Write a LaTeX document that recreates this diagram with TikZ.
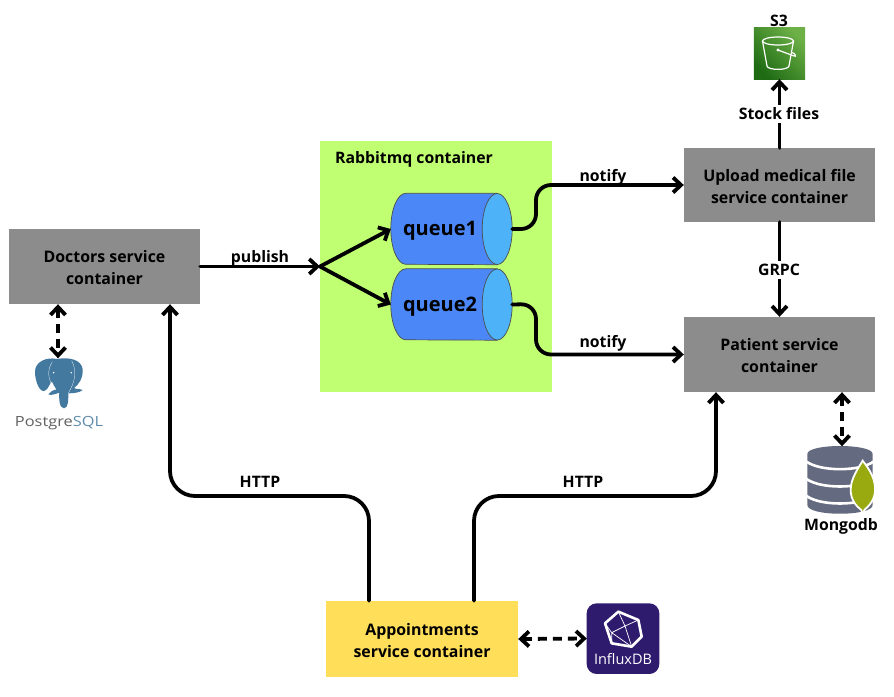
\documentclass[tikz,border=0pt]{standalone}
\usepackage{fontspec}
\setmainfont{Open Sans}
\usetikzlibrary{arrows.meta,calc}
\definecolor{boxgray}{HTML}{8C8C8C}
\definecolor{rabbitgreen}{HTML}{C1FF72}
\definecolor{apptyellow}{HTML}{FFDE59}
\definecolor{qbody}{HTML}{4B87F7}
\definecolor{qend}{HTML}{4DB2F7}
\definecolor{pgblue}{HTML}{44799F}
\definecolor{dbgray}{HTML}{646A80}
\definecolor{leafgreen}{HTML}{98AA10}
\definecolor{influx}{HTML}{2F1B6E}
\definecolor{sthree}{HTML}{1F6B14}
\definecolor{sthreelight}{HTML}{6CB046}
\newcommand{\queueshape}[1]{%
  \filldraw[fill=qbody,draw=black!70,line width=.7]
    ($(#1.north east)+(-15,0)$) -- ($(#1.north west)+(15,0)$)
    arc[start angle=-90,end angle=-270,x radius=15,y radius=35.5]
    -- ($(#1.south east)+(-15,0)$) -- cycle;
  \filldraw[fill=qend,draw=black!70,line width=.7]
    ($(#1.east)+(-15,0)$) ellipse [x radius=15,y radius=35.5];
}
\tikzset{
  service/.style={fill=boxgray,minimum width=191,minimum height=75,inner sep=0,align=center,
    font=\bfseries\fontsize{15.9}{22}\selectfont},
  queuebox/.style={minimum height=71,minimum width=121,inner sep=0},
  qlabel/.style={font=\bfseries\fontsize{20}{22}\selectfont},
  lab/.style={font=\bfseries\fontsize{15.8}{18}\selectfont,inner sep=1.5},
  whitelab/.style={lab,fill=white,inner sep=3},
  flow/.style={line width=3.8,line cap=round,-{Straight Barb[length=8,width=15,line width=3.8]}},
  dataflow/.style={line width=3.8,dash pattern=on 9 off 6,{Straight Barb[length=8,width=15,line width=3.8]}-{Straight Barb[length=8,width=15,line width=3.8]}},
  iconbox/.style={minimum width=#1,minimum height=#1,inner sep=0}
}
\begin{document}
\begin{tikzpicture}[x=1pt,y=-1pt]
\useasboundingbox (0,0) rectangle (894,696);
\fill[white] (0,0) rectangle (894,696);

\node[fill=rabbitgreen,minimum width=232,minimum height=251,inner sep=0] (rabbit) at (436,266.5) {};
\node[lab] (rabbittitle) at (414,159) {Rabbitmq container};

\node[service] (doc) at (104.5,266.5) {\rule{0pt}{15pt}Doctors service\\container};
\node[service,minimum height=74] (upload) at (779.5,185) {\rule{0pt}{15pt}Upload medical file\\service container};
\node[service] (patient) at (779.5,354.5) {\rule{0pt}{15pt}Patient service\\container};
\node[service,fill=apptyellow,minimum width=192,minimum height=76] (appt) at (422,639) {\rule{0pt}{15pt}Appointments\\service container};

\node[queuebox] (q1) at (451.5,229) {};
\node[queuebox] (q2) at (451.5,304.5) {};
\queueshape{q1}
\queueshape{q2}
\node[qlabel] (q1t) at (440,231) {queue1};
\node[qlabel] (q2t) at (440,307) {queue2};

% icon anchors
\node[iconbox=51] (s3) at (779.5,53.5) {};
\node[iconbox=51] (pg) at (58,384) {};
\node[iconbox=69] (mongo) at (842,481) {};
\node[iconbox=72] (influxdb) at (623,638.5) {};

% S3
\shade[bottom color=sthree,top color=sthreelight,shading angle=-45] (s3.north west) rectangle (s3.south east);
\begin{scope}[draw=white,line width=1.2]
  \draw (778,41) ellipse [x radius=15.5,y radius=4];
  \draw (762.5,41) -- (767,66) .. controls (768,70.5) and (788,70.5) .. (789,66) -- (793.5,41);
  \fill[white] (778,50) circle (1.7);
  \draw (778,50) -- (794,56) .. controls (797,57.5) and (795,53) .. (792,52.5);
\end{scope}
\node[lab] (s3t) at (779,20.5) {S3};

% PostgreSQL elephant
\begin{scope}[shift={(0,340)},x=.3333pt,y=-.3333pt]
  \fill[pgblue] (170,57) .. controls (140,50) and (105,65) .. (105,95)
    .. controls (105,125) and (120,160) .. (135,152)
    .. controls (148,145) and (150,125) .. (156,125)
    .. controls (160,135) and (168,145) .. (168,148)
    .. controls (160,150) and (150,155) .. (145,163)
    .. controls (155,168) and (170,160) .. (178,158)
    .. controls (176,175) and (178,205) .. (192,205)
    .. controls (206,205) and (205,175) .. (205,160)
    .. controls (220,160) and (240,158) .. (248,150)
    .. controls (240,146) and (225,148) .. (222,144)
    .. controls (235,135) and (250,115) .. (248,88)
    .. controls (245,60) and (210,50) .. (170,57) -- cycle;
  \fill[white] (161,98) circle (2.5) (214,98) circle (2.5);
  \draw[white,line width=.25] (157,65) .. controls (135,100) and (150,130) .. (168,150);
  \draw[white,line width=.25] (215,62) .. controls (232,95) and (225,125) .. (205,160);
\end{scope}
\node[inner sep=0] (pgt) at (59,423) {\scalebox{1.17}[1]{\fontsize{14}{14}\selectfont\textcolor{black!62}{Postgre}\textcolor{pgblue!85}{SQL}}};

% Mongo
\begin{scope}[shift={(790,430)},x=.3333pt,y=-.3333pt]
  \fill[dbgray] (52,72) .. controls (52,40) and (248,40) .. (248,72) -- (248,225)
     .. controls (248,260) and (52,260) .. (52,225) -- cycle;
  \draw[white,line width=2.6] (50,95) .. controls (90,125) and (210,125) .. (250,95);
  \draw[white,line width=2.6] (50,147) .. controls (90,177) and (210,177) .. (250,147);
  \draw[white,line width=2.6] (50,198) .. controls (90,228) and (210,228) .. (250,198);
  \fill[leafgreen,draw=white,line width=1.8] (218,92) .. controls (240,120) and (258,150) .. (255,185)
     .. controls (252,215) and (232,232) .. (223,240) -- (219,258) -- (214,240)
     .. controls (200,230) and (182,210) .. (182,180)
     .. controls (182,145) and (205,115) .. (218,92) -- cycle;
\end{scope}
\node[lab] (mongot) at (841,526.5) {Mongodb};

% InfluxDB
\begin{scope}[shift={(570,590)},x=.3333pt,y=-.3333pt]
  \fill[influx,rounded corners=10] (50,40) rectangle (268,252);
  \draw[white,line width=2.6,line join=round] (145,65) -- (205,90) -- (215,140) -- (185,170) -- (125,160) -- (105,100) -- cycle;
  \draw[white,line width=.7] (145,65) -- (165,108) -- (205,90) (165,108) -- (125,128) -- (105,100)
     (125,128) -- (125,160) (165,108) -- (185,170) (125,128) -- (185,170);
\end{scope}
\node[inner sep=0,text=white,font=\fontsize{14.5}{16}\selectfont] (influxt) at (623,659.5) {InfluxDB};

% connectors
\coordinate (fork) at (320,266.5);
\draw[flow] (doc.east) -- (fork);
\draw[flow] (fork) -- (q1.west);
\draw[flow] (fork) -- (q2.west);

\coordinate (b1) at (536,229);
\coordinate (b2) at (536,304);
\draw[flow,rounded corners=15] (q1.east) -- (b1) -- (b1 |- upload.west) -- (upload.west);
\draw[flow,rounded corners=15] (q2.east) -- (b2) -- (b2 |- patient.west) -- (patient.west);
\draw[flow] (upload.north) -- (s3.south);
\draw[flow] (upload.south) -- (patient.north);

\coordinate (apL) at (appt.north -| 369,0);
\coordinate (apR) at (appt.north -| 474,0);
\coordinate (hL) at (170,496);
\coordinate (hR) at (716,496);
\draw[flow,rounded corners=25] (apL) |- (hL) -- (doc.south -| hL);
\draw[flow,rounded corners=25] (apR) |- (hR) -- (patient.south -| hR);

\draw[dataflow] (doc.south -| pg.north) -- (pg.north);
\draw[dataflow] (patient.south -| mongo.north) -- (mongo.north);
\draw[dataflow] (appt.east) -- (influxdb.west);

% labels
\node[lab] (publish) at (260,258) {publish};
\node[lab] (notify1) at (603,177) {notify};
\node[lab] (notify2) at (603,343) {notify};
\node[whitelab] (stock) at (779,114) {Stock files};
\node[whitelab] (grpc) at (779,270) {GRPC};
\node[lab] (http1) at (260,482) {HTTP};
\node[lab] (http2) at (583,482) {HTTP};
\end{tikzpicture}
\end{document}
